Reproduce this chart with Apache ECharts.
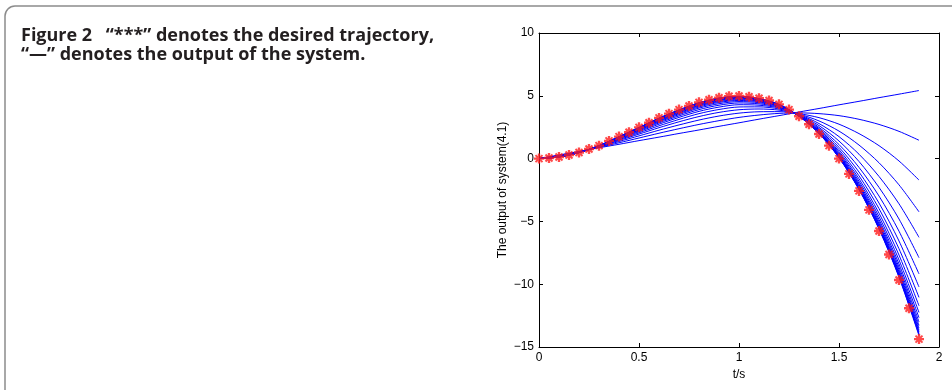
<!DOCTYPE html>
<html>
<head>
<meta charset="utf-8">
<script src="https://cdn.jsdelivr.net/npm/echarts@6/dist/echarts.min.js"></script>
<style>
html, body { margin: 0; padding: 0; background: #fff; }
#main { width: 952px; height: 390px; }
</style>
</head>
<body>
<div id="main"></div>
<script>
// desired trajectory (red stars), sampled every 0.05 s
var tDesired = [0, 0.05, 0.1, 0.15, 0.2, 0.25, 0.3, 0.35, 0.4, 0.45, 0.5, 0.55, 0.6, 0.65, 0.7, 0.75, 0.8, 0.85, 0.9, 0.95,
    1.0, 1.05, 1.1, 1.15, 1.2, 1.25, 1.3, 1.35, 1.4, 1.45, 1.5, 1.55, 1.6, 1.65, 1.7, 1.75, 1.8, 1.85, 1.9];
var desired = [0, 0.05, 0.13, 0.29, 0.48, 0.77, 1.03, 1.41, 1.75, 2.1, 2.49, 2.86, 3.24, 3.58, 3.9, 4.19, 4.48, 4.69, 4.85, 4.96,
    4.99, 4.93, 4.8, 4.62, 4.32, 3.9, 3.37, 2.73, 1.96, 1.03, 0, -1.22, -2.57, -4.08, -5.76, -7.63, -9.66, -11.92, -14.37];

// system output at each iteration (blue lines), sampled every 0.1 s
var tIter = [0, 0.1, 0.2, 0.3, 0.4, 0.5, 0.6, 0.7, 0.8, 0.9, 1.0, 1.1, 1.2, 1.3, 1.4, 1.5, 1.6, 1.7, 1.8, 1.9];
var outputs = [
    [0, 0.29, 0.57, 0.86, 1.14, 1.43, 1.71, 2.0, 2.28, 2.57, 2.85, 3.14, 3.42, 3.71, 3.99, 4.28, 4.56, 4.85, 5.13, 5.42],
    [0, 0.25, 0.55, 0.89, 1.26, 1.64, 2.02, 2.38, 2.72, 3.02, 3.28, 3.47, 3.6, 3.64, 3.58, 3.42, 3.13, 2.72, 2.17, 1.46],
    [0, 0.23, 0.54, 0.92, 1.36, 1.81, 2.26, 2.68, 3.07, 3.39, 3.62, 3.73, 3.74, 3.58, 3.26, 2.74, 1.99, 1.03, -0.19, -1.71],
    [0, 0.21, 0.53, 0.94, 1.44, 1.95, 2.46, 2.93, 3.35, 3.68, 3.89, 3.95, 3.86, 3.54, 3.0, 2.19, 1.08, -0.33, -2.09, -4.24],
    [0, 0.19, 0.52, 0.96, 1.5, 2.05, 2.61, 3.12, 3.58, 3.91, 4.11, 4.12, 3.95, 3.51, 2.79, 1.75, 0.35, -1.42, -3.6, -6.27],
    [0, 0.18, 0.51, 0.97, 1.55, 2.14, 2.74, 3.28, 3.76, 4.1, 4.29, 4.25, 4.03, 3.48, 2.63, 1.4, -0.23, -2.29, -4.81, -7.89],
    [0, 0.17, 0.5, 0.98, 1.59, 2.21, 2.84, 3.4, 3.9, 4.25, 4.43, 4.36, 4.08, 3.46, 2.49, 1.12, -0.7, -2.98, -5.78, -9.18],
    [0, 0.16, 0.5, 0.99, 1.62, 2.27, 2.92, 3.5, 4.02, 4.37, 4.54, 4.45, 4.13, 3.44, 2.39, 0.9, -1.07, -3.54, -6.56, -10.22],
    [0, 0.16, 0.5, 1.0, 1.65, 2.31, 2.98, 3.58, 4.11, 4.47, 4.63, 4.52, 4.17, 3.43, 2.3, 0.72, -1.37, -3.98, -7.18, -11.05],
    [0, 0.15, 0.49, 1.01, 1.67, 2.35, 3.03, 3.64, 4.19, 4.54, 4.7, 4.58, 4.2, 3.42, 2.23, 0.57, -1.61, -4.34, -7.68, -11.72],
    [0, 0.15, 0.49, 1.01, 1.68, 2.38, 3.08, 3.7, 4.24, 4.6, 4.76, 4.62, 4.22, 3.41, 2.18, 0.46, -1.8, -4.62, -8.07, -12.25],
    [0, 0.14, 0.49, 1.02, 1.7, 2.4, 3.11, 3.74, 4.29, 4.65, 4.81, 4.66, 4.24, 3.4, 2.13, 0.37, -1.96, -4.85, -8.39, -12.67],
    [0, 0.14, 0.49, 1.02, 1.71, 2.42, 3.14, 3.77, 4.33, 4.69, 4.84, 4.69, 4.26, 3.39, 2.1, 0.29, -2.08, -5.03, -8.64, -13.01],
    [0, 0.14, 0.49, 1.02, 1.72, 2.43, 3.16, 3.8, 4.36, 4.72, 4.87, 4.71, 4.27, 3.39, 2.07, 0.24, -2.18, -5.18, -8.85, -13.28],
    [0, 0.14, 0.48, 1.02, 1.72, 2.44, 3.17, 3.82, 4.38, 4.75, 4.9, 4.73, 4.28, 3.39, 2.05, 0.19, -2.26, -5.29, -9.01, -13.5],
    [0, 0.14, 0.48, 1.02, 1.73, 2.45, 3.19, 3.83, 4.4, 4.77, 4.92, 4.74, 4.29, 3.38, 2.03, 0.15, -2.32, -5.39, -9.14, -13.67],
    [0, 0.13, 0.48, 1.03, 1.73, 2.46, 3.2, 3.85, 4.42, 4.79, 4.93, 4.75, 4.3, 3.38, 2.02, 0.12, -2.37, -5.46, -9.24, -13.81],
    [0, 0.13, 0.48, 1.03, 1.74, 2.47, 3.21, 3.86, 4.43, 4.8, 4.94, 4.76, 4.3, 3.38, 2.01, 0.1, -2.41, -5.52, -9.33, -13.93],
    [0, 0.13, 0.48, 1.03, 1.74, 2.47, 3.21, 3.87, 4.44, 4.81, 4.95, 4.77, 4.3, 3.38, 2.0, 0.08, -2.44, -5.57, -9.39, -14.01],
    [0, 0.13, 0.48, 1.03, 1.74, 2.47, 3.22, 3.87, 4.45, 4.82, 4.96, 4.78, 4.31, 3.38, 1.99, 0.06, -2.47, -5.61, -9.45, -14.09]
];

var captionLines = ['Figure 2\u2002 \u201c***\u201d denotes the desired trajectory,', '\u201c\u2014\u201d denotes the output of the system.'];

// matlab style '*' marker: a plus and a cross
var starPath = 'path://M-1.2,-5 L1.2,-5 L1.2,5 L-1.2,5 Z M-5,-1.2 L5,-1.2 L5,1.2 L-5,1.2 Z ' +
    'M-4.2,-2.8 L-2.8,-4.2 L4.2,2.8 L2.8,4.2 Z M-4.2,2.8 L2.8,-4.2 L4.2,-2.8 L-2.8,4.2 Z';

var chart = echarts.init(document.getElementById('main'));

function zip(xs, ys) {
    return xs.map(function (x, i) { return [x, ys[i]]; });
}

var series = outputs.map(function (ys, k) {
    return {
        name: 'iter' + k,
        type: 'line',
        data: zip(tIter, ys),
        symbol: 'none',
        smooth: 0.3,
        lineStyle: { color: '#0000ff', width: 1 },
        z: 2
    };
});
series.push({
    name: 'desired',
    type: 'scatter',
    data: zip(tDesired, desired),
    symbol: starPath,
    symbolSize: 10,
    itemStyle: { color: '#ff1a1a' },
    z: 3
});

var axisFont = { fontFamily: 'Liberation Sans', fontSize: 12, color: '#000' };
var tickIn = { show: true, inside: true, length: 4, lineStyle: { color: '#000' } };
var lineBlack = { show: true, onZero: false, lineStyle: { color: '#000', width: 1 } };

var option = {
    animation: false,
    backgroundColor: '#fff',
    graphic: [
        {
            type: 'rect',
            shape: { x: 5, y: 6, width: 1000, height: 500, r: 10 },
            style: { fill: 'none', stroke: '#8c8c8c', lineWidth: 1.5 },
            silent: true
        },
        {
            type: 'text',
            left: 21,
            top: 26,
            style: {
                text: captionLines.join('\n'),
                font: 'bold 18px "Open Sans"',
                lineHeight: 19,
                fill: '#231f20'
            }
        }
    ],
    grid: { left: 539, right: 13, top: 33, bottom: 43, containLabel: false },
    xAxis: [
        {
            type: 'value',
            min: 0, max: 2, interval: 0.5,
            position: 'bottom',
            name: 't/s',
            nameLocation: 'middle',
            nameGap: 19,
            nameTextStyle: axisFont,
            axisLine: lineBlack,
            axisTick: tickIn,
            axisLabel: Object.assign({ margin: 5 }, axisFont),
            splitLine: { show: false }
        },
        {
            type: 'value',
            min: 0, max: 2, interval: 0.5,
            position: 'top',
            axisLine: lineBlack,
            axisTick: tickIn,
            axisLabel: { show: false },
            splitLine: { show: false }
        }
    ],
    yAxis: [
        {
            type: 'value',
            min: -15, max: 10, interval: 5,
            position: 'left',
            name: 'The output of system(4.1)',
            nameLocation: 'middle',
            nameGap: 30,
            nameTextStyle: axisFont,
            axisLine: lineBlack,
            axisTick: tickIn,
            axisLabel: Object.assign({
                margin: 5,
                formatter: function (v) { return String(v).replace('-', '\u2212'); }
            }, axisFont),
            splitLine: { show: false }
        },
        {
            type: 'value',
            min: -15, max: 10, interval: 5,
            position: 'right',
            axisLine: lineBlack,
            axisTick: tickIn,
            axisLabel: { show: false },
            splitLine: { show: false }
        }
    ],
    series: series
};

chart.setOption(option);
</script>
</body>
</html>
